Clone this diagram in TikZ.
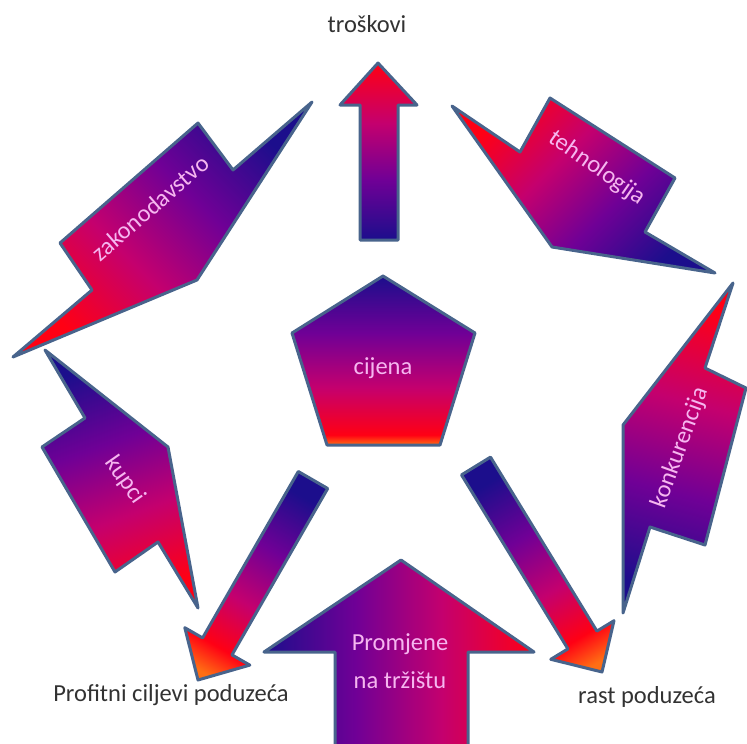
\documentclass[tikz,border=0pt]{standalone}
\usepackage{fontspec}
\setmainfont{Carlito}
\definecolor{cblue}{RGB}{28,14,140}
\definecolor{cpurple}{RGB}{112,0,150}
\definecolor{cmag}{RGB}{196,0,110}
\definecolor{cred}{RGB}{255,0,20}
\definecolor{corange}{RGB}{255,110,20}
\definecolor{edgec}{RGB}{72,100,140}
\definecolor{intext}{RGB}{246,182,240}
\definecolor{outtext}{RGB}{50,50,50}
\pgfdeclareverticalshading{bluered}{100bp}{color(0bp)=(cblue); color(25bp)=(cblue); color(42bp)=(cpurple); color(58bp)=(cmag); color(75bp)=(cred); color(100bp)=(cred)}
\pgfdeclareverticalshading{blueredor}{100bp}{color(0bp)=(cblue); color(25bp)=(cblue); color(42bp)=(cpurple); color(58bp)=(cmag); color(72bp)=(cred); color(80bp)=(corange); color(100bp)=(corange)}
\pgfdeclareverticalshading{pentashade}{100bp}{color(0bp)=(cred); color(25bp)=(corange); color(28bp)=(cred); color(42bp)=(cmag); color(58bp)=(cpurple); color(75bp)=(cblue); color(100bp)=(cblue)}
\tikzset{
  shapebox/.style={draw=edgec, line width=3pt, line join=round},
  intxt/.style={text=intext, font=\fontsize{24.5}{30}\selectfont, inner sep=0pt},
  outtxt/.style={text=outtext, font=\fontsize{24.5}{30}\selectfont, inner sep=0pt}
}
\begin{document}
\begin{tikzpicture}[x=1pt,y=-1pt]
\useasboundingbox (0,0) rectangle (747,744);
% top arrow (troskovi)
\shadedraw[shapebox, shading=bluered, shading angle=0]
  (360,240) -- (360,105) -- (340,105) -- (378,63) -- (417,105) -- (398,105) -- (398,240) -- cycle;
% pentagon
\shadedraw[shapebox, shading=pentashade, shading angle=0]
  (383,276) -- (475,333) -- (440,445) -- (327,445) -- (292,333) -- cycle;
% zakonodavstvo
\shadedraw[shapebox, shading=bluered, shading angle=135]
  (312,102) -- (233,170) -- (198,123) -- (60,243) -- (92,290) -- (13,357) -- (197,280) -- cycle;
% tehnologija
\shadedraw[shapebox, shading=bluered, shading angle=45]
  (452,106) -- (520,152) -- (550,98) -- (675,178) -- (645,232) -- (715,273) -- (552,247) -- cycle;
% kupci
\shadedraw[shapebox, shading=bluered, shading angle=200]
  (45,350) -- (85,418) -- (42,447) -- (115,572) -- (158,542) -- (198,608) -- (168,447) -- cycle;
% konkurencija
\shadedraw[shapebox, shading=bluered, shading angle=-15]
  (733,283) -- (705,368) -- (746,388) -- (705,545) -- (650,527) -- (623,613) -- (623,425) -- cycle;
% bottom-left arrow
\shadedraw[shapebox, shading=blueredor, shading angle=150]
  (298.3,471.5) -- (327.7,488.5) -- (232.0,654.9) -- (249.8,665.1) -- (198,680) -- (184.8,627.7) -- (202.6,637.9) -- cycle;
% bottom-right arrow
\shadedraw[shapebox, shading=blueredor, shading angle=211]
  (461.5,474.9) -- (490.5,457.1) -- (596.9,631.1) -- (614.0,620.7) -- (602,672) -- (550.8,659.3) -- (567.9,648.9) -- cycle;
% Promjene arrow
\shadedraw[shapebox, shading=bluered, shading angle=-90]
  (335,760) -- (335,652) -- (264,652) -- (401,560) -- (534,652) -- (468,652) -- (468,760) -- cycle;
% texts
\node[outtxt] (tros) at (367,24) {troškovi};
\node[intxt] (cij) at (383,368) {cijena};
\node[intxt, rotate=41] (zak) at (150,208) {zakonodavstvo};
\node[intxt, rotate=-35] (teh) at (597,168) {tehnologija};
\node[intxt, rotate=-55] (kup) at (125,480) {kupci};
\node[intxt, rotate=70] (kon) at (680,448) {konkurencija};
\node[intxt, align=center, font=\fontsize{24.5}{38}\selectfont] (prom) at (400,661) {Promjene\\na tržištu};
\node[outtxt] (prof) at (171,695) {Profitni ciljevi poduzeća};
\node[outtxt] (rast) at (647,697) {rast poduzeća};
\end{tikzpicture}
\end{document}
